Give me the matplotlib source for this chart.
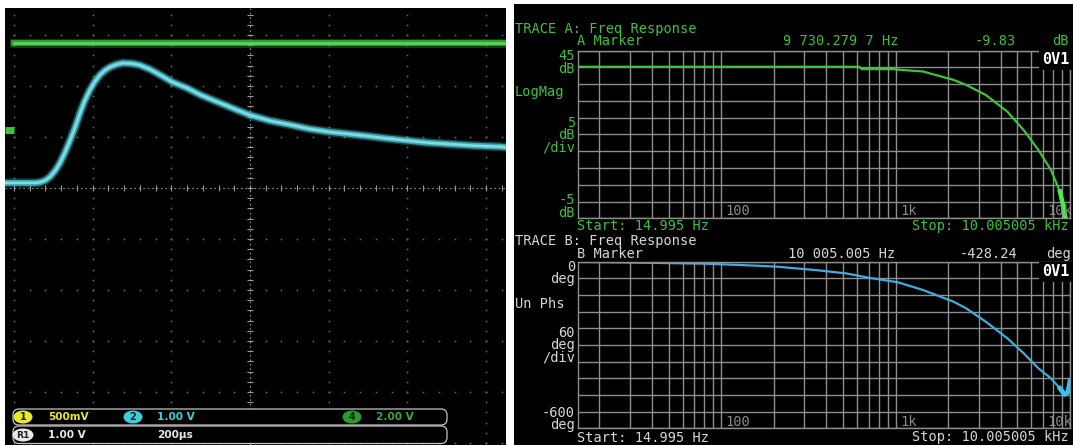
import matplotlib
matplotlib.use("Agg")
import matplotlib.pyplot as plt
from matplotlib.patches import FancyBboxPatch, Ellipse, Rectangle
import numpy as np

W, H = 1073, 445

# ---------------- oscilloscope capture (left) ----------------
# channel 2 (1.00 V/div), time in microseconds relative to screen centre
ch2_time_us = [-622, -545, -534, -520, -508, -495, -483, -470, -457, -444, -432, -420,
               -407, -394, -381, -368, -356, -340, -323, -300, -280, -255, -229, -198,
               -160, -127, -90, -58, -30, 0, 50, 102, 150, 201, 250, 297, 350, 399,
               450, 508, 570, 635, 651]
ch2_volts = [0.00, 0.00, 0.01, 0.05, 0.12, 0.24, 0.39, 0.60, 0.84, 1.10, 1.37, 1.61,
             1.82, 1.99, 2.12, 2.21, 2.27, 2.32, 2.35, 2.34, 2.31, 2.23, 2.12, 1.98,
             1.86, 1.73, 1.61, 1.51, 1.42, 1.33, 1.22, 1.14, 1.06, 1.00, 0.96, 0.92,
             0.87, 0.83, 0.79, 0.76, 0.73, 0.71, 0.70]
# channel 4 (2.00 V/div)
ch4_time_us = [-600, 651]
ch4_volts = [3.40, 3.40]

ch2_scale, ch2_offset_div = 1.0, 0.10
ch4_scale, ch4_offset_div = 2.0, 1.14

readout_row1 = [("1", "500mV"), ("2", "1.00 V"), ("4", "2.00 V")]
readout_ref = ("R1", "1.00 V")
timebase = "200µs"

# ---------------- signal analyzer (right) ----------------
freq_a_hz = [14.995, 100, 300, 620, 640, 980, 1000, 1436, 2150, 2540, 3290, 4380,
             5430, 6590, 7780, 8760, 9300, 9730, 10005.005]
mag_a_db = [40.2, 40.2, 40.2, 40.2, 39.5, 39.5, 39.4, 38.8, 36.3, 34.8, 31.8, 26.8,
            21.3, 15.4, 9.4, 3.0, -3.0, -9.83, -14.0]

freq_b_hz = [14.995, 24, 80, 155, 210, 346, 520, 705, 1030, 1436, 2150, 2540, 3290,
             4380, 5430, 6590, 7780, 8760, 9300, 9730, 10005.005]
phase_b_deg = [0, -2, -7, -14, -18, -30, -42, -58, -74, -102, -144, -168, -216,
               -276, -330, -384, -420, -456, -478, -470, -428.24]

f_start, f_stop = 14.995, 10005.005
grid_freqs = [m * 10 ** e for e in (1, 2, 3) for m in range(1, 10)] + [10000]
grid_freqs = [f for f in grid_freqs if f_start < f <= f_stop]

GREEN = "#3cc43c"
CYAN = "#52ccd8"
BLUE = "#3eaee0"
TXT_G = "#3fbf3f"
TXT_W = "#d6d6d6"
GRID = "#8e8e8e"


def fx(x):
    return x / W


def fy(y):
    return 1 - y / H


def box(x0, y0, x1, y1):
    return [fx(x0), fy(y1), (x1 - x0) / W, (y1 - y0) / H]


fig = plt.figure(figsize=(W / 100, H / 100), dpi=100, facecolor="white")

# ---- scope screen ----
DIVX, CX = 78.7, 250.0
DIVY, CY = 51.0, 188.0
t_left, t_right = (5 - CX) / DIVX * 200, (506 - CX) / DIVX * 200
d_top, d_bot = (CY - 8) / DIVY, (CY - 445) / DIVY

sc = fig.add_axes(box(5, 8, 506, 445))
sc.set_facecolor("black")
sc.set_xlim(t_left, t_right)
sc.set_ylim(d_bot, d_top)
sc.set_xticks([]); sc.set_yticks([])
for s in sc.spines.values():
    s.set_visible(False)

# graticule dots
dot_t = np.arange(-600, 641, 40)
dot_d = np.arange(-5.0, 3.41, 0.2)
for row in [-5, -4, -3, -2, -1, 1, 2, 3]:
    sc.plot(dot_t, np.full_like(dot_t, row, dtype=float), ls="none", marker="s",
            ms=1.2, mec="none", color="#666666")
for col in [-600, -400, -200, 200, 400, 600]:
    sc.plot(np.full_like(dot_d, col), dot_d, ls="none", marker="s",
            ms=1.2, mec="none", color="#666666")
# centre cross with minor ticks
sc.plot([t_left, t_right], [0, 0], color="#8a8a8a", lw=0.8, ls=(0, (1.5, 2.5)))
sc.plot([0, 0], [d_bot, d_top], color="#8a8a8a", lw=0.8, ls=(0, (1.5, 2.5)))
sc.plot(dot_t, np.zeros_like(dot_t, dtype=float), ls="none", marker="|", ms=4,
        mew=0.8, color="#9a9a9a")
sc.plot(np.zeros_like(dot_d), dot_d, ls="none", marker="_", ms=5,
        mew=0.8, color="#9a9a9a")

# traces drawn as a soft glow band with a bright core
ch2_div = [ch2_offset_div + v / ch2_scale for v in ch2_volts]
ch4_div = [ch4_offset_div + v / ch4_scale for v in ch4_volts]
for tt, dd, col, core in [(ch4_time_us, ch4_div, GREEN, "#5ee05e"),
                          (ch2_time_us, ch2_div, CYAN, "#86e4ec")]:
    sc.plot(tt, dd, color=col, lw=6.5, alpha=0.30, solid_joinstyle="round")
    sc.plot(tt, dd, color=col, lw=4.2, alpha=0.75, solid_joinstyle="round")
    sc.plot(tt, dd, color=core, lw=1.8, alpha=0.9, solid_joinstyle="round")
# channel 4 ground marker
sc.plot([t_left, -600], [ch4_offset_div, ch4_offset_div], color=GREEN, lw=5,
        solid_capstyle="butt")

# ---- analyzer screen ----
bg = fig.add_axes(box(514, 4, 1073, 445))
bg.set_facecolor("black")
bg.set_xticks([]); bg.set_yticks([])
for s in bg.spines.values():
    s.set_visible(False)


def analyzer_axes(y0, y1, ylo, yhi, step):
    ax = fig.add_axes(box(577.5, y0, 1070, y1))
    ax.set_facecolor("none")
    ax.set_xscale("log")
    ax.set_xlim(f_start, f_stop)
    ax.set_ylim(ylo, yhi)
    ax.set_xticks(grid_freqs)
    ax.set_xticks([], minor=True)
    ax.set_yticks(np.arange(ylo, yhi + step / 2, step))
    ax.grid(True, color=GRID, lw=1.0)
    ax.tick_params(length=0, labelbottom=False, labelleft=False)
    for s in ax.spines.values():
        s.set_color(GRID)
        s.set_linewidth(1.0)
    return ax


axA = analyzer_axes(50.7, 218.3, -5, 45, 5)
axA.plot(freq_a_hz, mag_a_db, color=GREEN, lw=1.6)
axA.plot(freq_a_hz[-4:], mag_a_db[-4:], color="#44ee44", lw=3.2)

axB = analyzer_axes(261.7, 428.3, -600, 0, 60)
axB.plot(freq_b_hz, phase_b_deg, color=BLUE, lw=1.6)
axB.plot(freq_b_hz[-4:], phase_b_deg[-4:], color="#34c4f0", lw=3.4)

# ---- overlay for screen text (pixel coordinates) ----
ov = fig.add_axes([0, 0, 1, 1], zorder=10)
ov.set_xlim(0, W)
ov.set_ylim(H, 0)
ov.axis("off")

MONO = "DejaVu Sans Mono"
FS = 9.8


def t(x, y, s, c, ha="left", size=FS, **kw):
    ov.text(x, y, s, color=c, ha=ha, va="center", family=MONO, size=size, **kw)


def stack(y, s, c):
    # right-aligned scale annotation stacked at the left of a grid
    ov.text(575, y, s, color=c, ha="right", va="center", ma="right",
            family=MONO, size=FS, linespacing=0.86)


# trace A header / labels
t(515, 29, "TRACE A: Freq Response", TXT_G)
t(577, 41, "A Marker", TXT_G)
t(783, 41, "9 730.279 7 Hz", TXT_G)
t(975, 41, "-9.83", TXT_G)
t(1052, 41, "dB", TXT_G)
stack(62.3, "45\ndB", TXT_G)
t(515, 92, "LogMag", TXT_G)
stack(135, "5\ndB\n/div", TXT_G)
stack(206.5, "-5\ndB", TXT_G)
t(577, 226, "Start: 14.995 Hz", TXT_G)
t(912, 226, "Stop: 10.005005 kHz", TXT_G)

# trace B header / labels
t(515, 241.5, "TRACE B: Freq Response", TXT_W)
t(577, 254, "B Marker", TXT_W)
t(788, 254, "10 005.005 Hz", TXT_W)
t(960, 254, "-428.24", TXT_W)
t(1046, 254, "deg", TXT_W)
stack(272.8, "0\ndeg", TXT_W)
t(515, 304, "Un Phs", TXT_W)
stack(345.3, "60\ndeg\n/div", TXT_W)
stack(419, "-600\ndeg", TXT_W)
t(577, 437.5, "Start: 14.995 Hz", TXT_W)
t(912, 437.5, "Stop: 10.005005 kHz", TXT_W)

# decade labels inside the grids
for yy in (211, 422.5):
    t(725, yy, "100", "#8a8a8a")
    t(900, yy, "1k", "#8a8a8a")
    t(1047, yy, "10k", "#8a8a8a")

for yy in (60, 272):
    ov.add_patch(Rectangle((1039, yy - 10), 34, 20, facecolor="black",
                           edgecolor="none"))
    t(1042, yy, "0V1", "white", size=11, weight="bold")

# ---- scope readout bar ----
for y0, y1 in [(409, 425), (426, 443.5)]:
    ov.add_patch(FancyBboxPatch((13, y0), 434, y1 - y0,
                                boxstyle="round,pad=0,rounding_size=6",
                                facecolor="black", edgecolor="#c4c4c4", lw=0.9))

SC_FONT = "DejaVu Sans"
badges = [(23, 417, "#e8e830", "1", "#e8e830", 48, readout_row1[0][1]),
          (133, 417, "#3cd0dc", "2", "#3cd0dc", 157, readout_row1[1][1]),
          (352, 417, "#2a9a2a", "4", "#3aa83a", 376, readout_row1[2][1])]
for cx, cy, fc, lab, tc, tx, val in badges:
    ov.add_patch(Ellipse((cx, cy), 19, 13, facecolor=fc, edgecolor="none"))
    ov.text(cx, cy + 0.5, lab, color="#202020", ha="center", va="center",
            family=SC_FONT, size=7, weight="bold")
    ov.text(tx, cy, val, color=tc, ha="left", va="center", family=SC_FONT,
            size=7.6, weight="bold")

ov.add_patch(Ellipse((23, 435), 21, 13, facecolor="#e8e8e8", edgecolor="none"))
ov.text(23, 435.5, readout_ref[0], color="#202020", ha="center", va="center",
        family=SC_FONT, size=6.6, weight="bold")
ov.text(48, 435, readout_ref[1], color="#e8e8e8", ha="left", va="center",
        family=SC_FONT, size=7.6, weight="bold")
ov.text(157, 435, timebase, color="#e8e8e8", ha="left", va="center",
        family=SC_FONT, size=7.6, weight="bold")

fig.savefig("out.png", dpi=100, facecolor="white")
